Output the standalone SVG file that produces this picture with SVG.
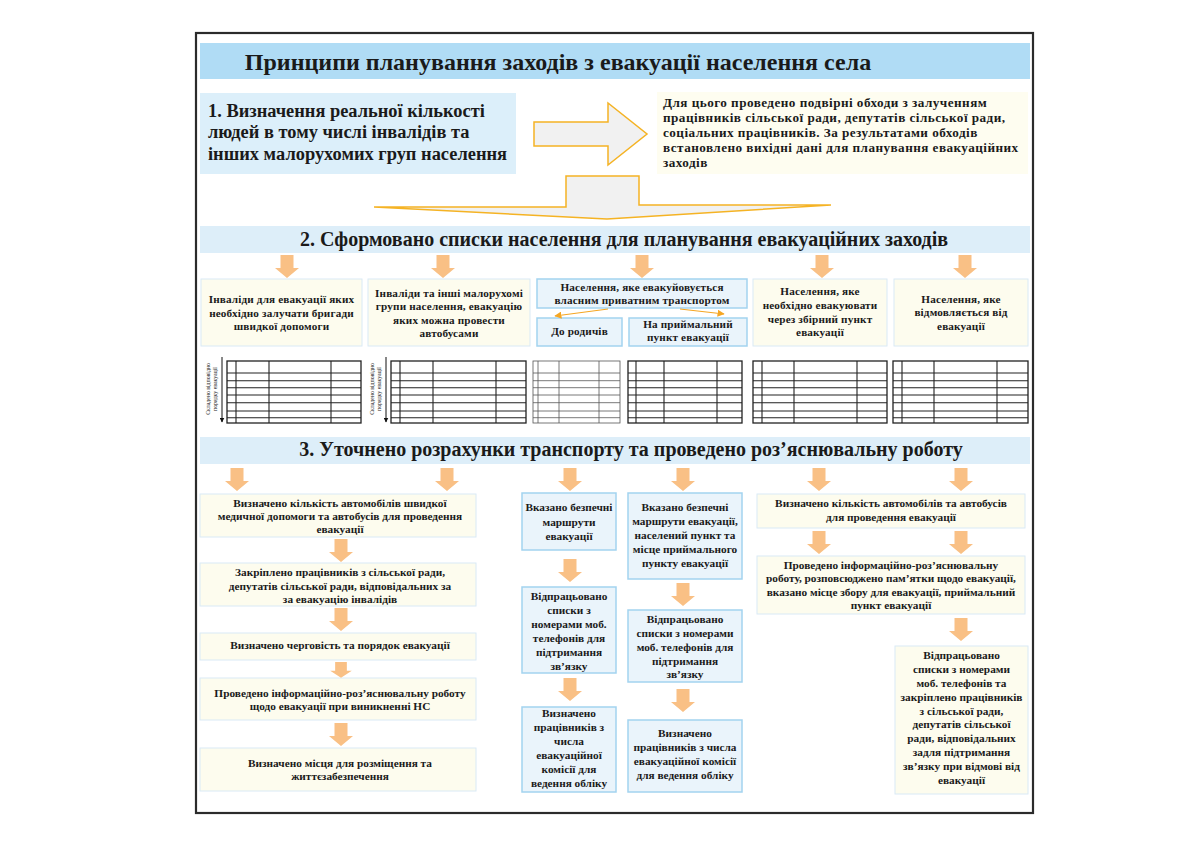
<svg xmlns="http://www.w3.org/2000/svg" xmlns:xlink="http://www.w3.org/1999/xlink" width="1200" height="849" viewBox="0 0 1200 849">
<style>
text{font-family:"Liberation Serif","DejaVu Serif",serif;font-weight:bold;fill:#1a1a1a}
.t{font-size:24px;text-anchor:middle}
.h{font-size:20px;text-anchor:middle}
.b1{font-size:18.4px}
.rb{font-size:13.2px;letter-spacing:0.45px}
.s2{font-size:11.2px;text-anchor:middle;letter-spacing:0.15px}
.s3{font-size:11.3px;text-anchor:middle}
.vt{font-size:5.8px;text-anchor:middle;font-weight:normal}
.yb{fill:#FDFCEE;stroke:#D9EAF6;stroke-width:1}
.bb{fill:#EAF4FB;stroke:#A3D3EF;stroke-width:1.5}
.tb{fill:none;stroke:#222;stroke-width:1.3}
.tl{stroke:#222;stroke-width:1.1}
.tb3{fill:none;stroke:#555;stroke-width:0.8}
.tl3{stroke:#555;stroke-width:0.8}
.blk{fill:#F1F1F1;stroke:#F5B324;stroke-width:1.5}
.oa{stroke:#F5A623;stroke-width:1.2;fill:none}
</style>
<defs>
<path id="da" d="M-6.5,0 H6.5 V13 H12 L0,23 L-12,13 H-6.5 Z" fill="#F9C085"/>
<marker id="om" viewBox="0 0 10 10" refX="9" refY="5" markerWidth="6" markerHeight="6" orient="auto"><path d="M0,0 L10,5 L0,10 Z" fill="#F5A623"/></marker>
<marker id="km" viewBox="0 0 10 10" refX="9" refY="5" markerWidth="5" markerHeight="5" orient="auto"><path d="M0,0 L10,5 L0,10 Z" fill="#111"/></marker>
</defs>
<rect x="0" y="0" width="1200" height="849" fill="#fff"/>
<rect x="196" y="33" width="837" height="780" fill="#fff" stroke="#2b2b2b" stroke-width="2.2"/>

<g id="title">
<rect x="200" y="43" width="830" height="36" fill="#B0DCF5"/>
<text class="t" x="558" y="70">Принципи планування заходів з евакуації населення села</text>
</g>

<g id="step1">
<rect x="200" y="93" width="316" height="81" fill="#DCEFFA"/>
<text class="b1" x="208" y="117">1. Визначення реальної кількості</text>
<text class="b1" x="208" y="138">людей в тому числі інвалідів та</text>
<text class="b1" x="208" y="160">інших малорухомих груп населення</text>
</g>

<g id="step1-note">
<rect x="657" y="92" width="371" height="82" fill="#FEFDF0"/>
<text class="rb" x="663" y="107">Для цього проведено подвірні обходи з залученням</text>
<text class="rb" x="663" y="122">працівників сільської ради, депутатів сільської ради,</text>
<text class="rb" x="663" y="137">соціальних працівників. За результатами обходів</text>
<text class="rb" x="663" y="152">встановлено вихідні дані для планування евакуаційних</text>
<text class="rb" x="663" y="167">заходів</text>
</g>

<g id="sec2-head">
<rect x="200" y="226" width="830" height="27" fill="#DDEEF9"/>
<text class="h" x="624" y="246">2. Сформовано списки населення для планування евакуаційних заходів</text>
</g>

<g id="n2a">
<rect class="yb" x="201" y="279" width="161" height="67"/>
<text class="s2" x="281.5" y="303">Інваліди для евакуації яких</text>
<text class="s2" x="281.5" y="316.5">необхідно залучати бригади</text>
<text class="s2" x="281.5" y="330">швидкої допомоги</text>
</g>
<g id="n2b">
<rect class="yb" x="368" y="279" width="162" height="67"/>
<text class="s2" x="449" y="296.5">Інваліди та інші малорухомі</text>
<text class="s2" x="449" y="310">групи населення, евакуацію</text>
<text class="s2" x="449" y="323.5">яких можна провести</text>
<text class="s2" x="449" y="337">автобусами</text>
</g>
<g id="n2c">
<rect class="bb" x="537" y="279" width="210" height="29"/>
<text class="s2" x="642" y="291">Населення, яке евакуйовується</text>
<text class="s2" x="642" y="304">власним приватним транспортом</text>
</g>
<g id="n2c1">
<rect class="bb" x="537" y="318" width="85" height="28"/>
<text class="s2" x="579.5" y="335">До родичів</text>
</g>
<g id="n2c2">
<rect class="bb" x="629" y="318" width="118" height="28"/>
<text class="s2" x="688" y="328">На приймальний</text>
<text class="s2" x="688" y="341">пункт евакуації</text>
</g>
<g id="n2d">
<rect class="yb" x="753" y="279" width="134" height="67"/>
<text class="s2" x="820" y="295">Населення, яке</text>
<text class="s2" x="820" y="309">необхідно евакуювати</text>
<text class="s2" x="820" y="323">через збірний пункт</text>
<text class="s2" x="820" y="336">евакуації</text>
</g>
<g id="n2e">
<rect class="yb" x="894" y="279" width="134" height="67"/>
<text class="s2" x="961" y="303">Населення, яке</text>
<text class="s2" x="961" y="316">відмовляється від</text>
<text class="s2" x="961" y="330">евакуації</text>
</g>

<g id="tables">
<g id="tbl1">
<rect class="tb" x="227" y="361" width="134" height="62"/>
<path class="tl" d="M236,361V423M269,361V423M331,361V423M227,373H361M227,380.7H361M227,387.7H361M227,395H361M227,402.7H361M227,411H361M227,417.7H361"/>
</g>
<g id="tbl2">
<rect class="tb" x="391" y="361" width="135" height="62"/>
<path class="tl" d="M400,361V423M433,361V423M496,361V423M391,373H526M391,380.7H526M391,387.7H526M391,395H526M391,402.7H526M391,411H526M391,417.7H526"/>
</g>
<g id="tbl3">
<rect class="tb3" x="533" y="361" width="87" height="62"/>
<path class="tl3" d="M538,361V423M559,361V423M599,361V423M533,373H620M533,380.7H620M533,387.7H620M533,395H620M533,402.7H620M533,411H620M533,417.7H620"/>
</g>
<g id="tbl4">
<rect class="tb" x="628" y="361" width="114" height="62"/>
<path class="tl" d="M636,361V423M664,361V423M717,361V423M628,373H742M628,380.7H742M628,387.7H742M628,395H742M628,402.7H742M628,411H742M628,417.7H742"/>
</g>
<g id="tbl5">
<rect class="tb" x="753" y="361" width="134" height="62"/>
<path class="tl" d="M762,361V423M794,361V423M857,361V423M753,373H887M753,380.7H887M753,387.7H887M753,395H887M753,402.7H887M753,411H887M753,417.7H887"/>
</g>
<g id="tbl6">
<rect class="tb" x="893" y="361" width="135" height="62"/>
<path class="tl" d="M902,361V423M934,361V423M997,361V423M893,373H1028M893,380.7H1028M893,387.7H1028M893,395H1028M893,402.7H1028M893,411H1028M893,417.7H1028"/>
</g>
<g id="vlabel1">
<text class="vt" transform="translate(210,389) rotate(-90)">Складено відповідно</text>
<text class="vt" transform="translate(217,389) rotate(-90)">порядку евакуації</text>
<line x1="222" y1="357" x2="222" y2="422" stroke="#111" stroke-width="1" marker-end="url(#km)"/>
</g>
<g id="vlabel2">
<text class="vt" transform="translate(374,389) rotate(-90)">Складено відповідно</text>
<text class="vt" transform="translate(381,389) rotate(-90)">порядку евакуації</text>
<line x1="386" y1="357" x2="386" y2="422" stroke="#111" stroke-width="1" marker-end="url(#km)"/>
</g>
</g>

<g id="sec3-head">
<rect x="200" y="437" width="830" height="27" fill="#DDEEF9"/>
<text class="h" x="631" y="456">3. Уточнено розрахунки транспорту та проведено роз’яснювальну роботу</text>
</g>

<g id="l1">
<rect class="yb" x="200" y="494" width="276" height="43"/>
<text class="s3" x="340" y="507">Визначено кількість автомобілів швидкої</text>
<text class="s3" x="340" y="520">медичної допомоги та автобусів для проведення</text>
<text class="s3" x="340" y="533">евакуації</text>
</g>
<g id="l2">
<rect class="yb" x="200" y="563" width="276" height="43"/>
<text class="s3" x="340" y="576">Закріплено працівників з сільської ради,</text>
<text class="s3" x="340" y="590">депутатів сільської ради, відповідальних за</text>
<text class="s3" x="340" y="603">за евакуацію інвалідів</text>
</g>
<g id="l3">
<rect class="yb" x="200" y="633" width="276" height="27"/>
<text class="s3" x="340" y="649">Визначено черговість та порядок евакуації</text>
</g>
<g id="l4">
<rect class="yb" x="200" y="678" width="276" height="42"/>
<text class="s3" x="340" y="697">Проведено інформаційно-роз’яснювальну роботу</text>
<text class="s3" x="340" y="710">щодо евакуації при виникненні НС</text>
</g>
<g id="l5">
<rect class="yb" x="200" y="748" width="276" height="43"/>
<text class="s3" x="340" y="767">Визначено місця для розміщення та</text>
<text class="s3" x="340" y="780">життєзабезпечення</text>
</g>

<g id="m1">
<rect class="bb" x="522" y="493" width="94" height="57"/>
<text class="s3" x="569" y="511">Вказано безпечні</text>
<text class="s3" x="569" y="526">маршрути</text>
<text class="s3" x="569" y="540">евакуації</text>
</g>
<g id="m2">
<rect class="bb" x="522" y="587" width="94" height="86"/>
<text class="s3" x="569" y="600">Відпрацьовано</text>
<text class="s3" x="569" y="614">списки з</text>
<text class="s3" x="569" y="628">номерами моб.</text>
<text class="s3" x="569" y="642">телефонів для</text>
<text class="s3" x="569" y="656">підтримання</text>
<text class="s3" x="569" y="670">зв’язку</text>
</g>
<g id="m3">
<rect class="bb" x="522" y="707" width="94" height="85"/>
<text class="s3" x="569" y="717">Визначено</text>
<text class="s3" x="569" y="731">працівників з</text>
<text class="s3" x="569" y="745">числа</text>
<text class="s3" x="569" y="759">евакуаційної</text>
<text class="s3" x="569" y="773">комісії для</text>
<text class="s3" x="569" y="787">ведення обліку</text>
</g>
<g id="m4">
<rect class="bb" x="628" y="493" width="114" height="86"/>
<text class="s3" x="685" y="511">Вказано безпечні</text>
<text class="s3" x="685" y="525">маршрути евакуації,</text>
<text class="s3" x="685" y="539">населений пункт та</text>
<text class="s3" x="685" y="553">місце приймального</text>
<text class="s3" x="685" y="567">пункту евакуації</text>
</g>
<g id="m5">
<rect class="bb" x="628" y="610" width="114" height="72"/>
<text class="s3" x="685" y="623">Відпрацьовано</text>
<text class="s3" x="685" y="637">списки з номерами</text>
<text class="s3" x="685" y="651">моб. телефонів для</text>
<text class="s3" x="685" y="665">підтримання</text>
<text class="s3" x="685" y="678">зв’язку</text>
</g>
<g id="m6">
<rect class="bb" x="628" y="720" width="114" height="72"/>
<text class="s3" x="685" y="737">Визначено</text>
<text class="s3" x="685" y="751">працівників з числа</text>
<text class="s3" x="685" y="765">евакуаційної комісії</text>
<text class="s3" x="685" y="779">для ведення обліку</text>
</g>

<g id="r1">
<rect class="yb" x="757" y="494" width="268" height="34"/>
<text class="s3" x="891" y="507">Визначено кількість автомобілів та автобусів</text>
<text class="s3" x="891" y="521">для проведення евакуації</text>
</g>
<g id="r2">
<rect class="yb" x="757" y="556" width="268" height="58"/>
<text class="s3" x="891" y="569">Проведено інформаційно-роз’яснювальну</text>
<text class="s3" x="891" y="582">роботу, розповсюджено пам’ятки щодо евакуації,</text>
<text class="s3" x="891" y="596">вказано місце збору для евакуації, приймальний</text>
<text class="s3" x="891" y="609">пункт евакуації</text>
</g>
<g id="r3">
<rect class="yb" x="895" y="646" width="133" height="148"/>
<text class="s3" x="961.5" y="659">Відпрацьовано</text>
<text class="s3" x="961.5" y="673">списки з номерами</text>
<text class="s3" x="961.5" y="687">моб. телефонів та</text>
<text class="s3" x="961.5" y="701">закріплено працівників</text>
<text class="s3" x="961.5" y="715">з сільської ради,</text>
<text class="s3" x="961.5" y="728">депутатів сільської</text>
<text class="s3" x="961.5" y="742">ради, відповідальних</text>
<text class="s3" x="961.5" y="756">задля підтримання</text>
<text class="s3" x="961.5" y="770">зв’язку при відмові від</text>
<text class="s3" x="961.5" y="784">евакуації</text>
</g>

<g id="connectors">
<polygon class="blk" points="534,122 608,122 608,103 647,134 608,165 608,146 534,146"/>
<polygon class="blk" points="566,176 639,176 639,205 831,205 607,219 374,207 566,207"/>
<line class="oa" x1="608" y1="309" x2="555" y2="316" marker-end="url(#om)"/>
<line class="oa" x1="680" y1="309" x2="724" y2="314" marker-end="url(#om)"/>
<use xlink:href="#da" x="287" y="255"/>
<use xlink:href="#da" x="443" y="255"/>
<use xlink:href="#da" x="642" y="255"/>
<use xlink:href="#da" x="822" y="255"/>
<use xlink:href="#da" x="965" y="255"/>
<use xlink:href="#da" x="237" y="468"/>
<use xlink:href="#da" x="447" y="468"/>
<use xlink:href="#da" x="570" y="468"/>
<use xlink:href="#da" x="683" y="468"/>
<use xlink:href="#da" x="819" y="468"/>
<use xlink:href="#da" x="961" y="468"/>
<use xlink:href="#da" x="341" y="539"/>
<use xlink:href="#da" x="341" y="608"/>
<use xlink:href="#da" transform="translate(341,662) scale(0.9,0.68)"/>
<use xlink:href="#da" x="341" y="723"/>
<use xlink:href="#da" x="570" y="559"/>
<use xlink:href="#da" x="570" y="678"/>
<use xlink:href="#da" x="683" y="583"/>
<use xlink:href="#da" x="683" y="689"/>
<use xlink:href="#da" x="819" y="531"/>
<use xlink:href="#da" x="961" y="531"/>
<use xlink:href="#da" x="961" y="618"/>
</g>
</svg>
